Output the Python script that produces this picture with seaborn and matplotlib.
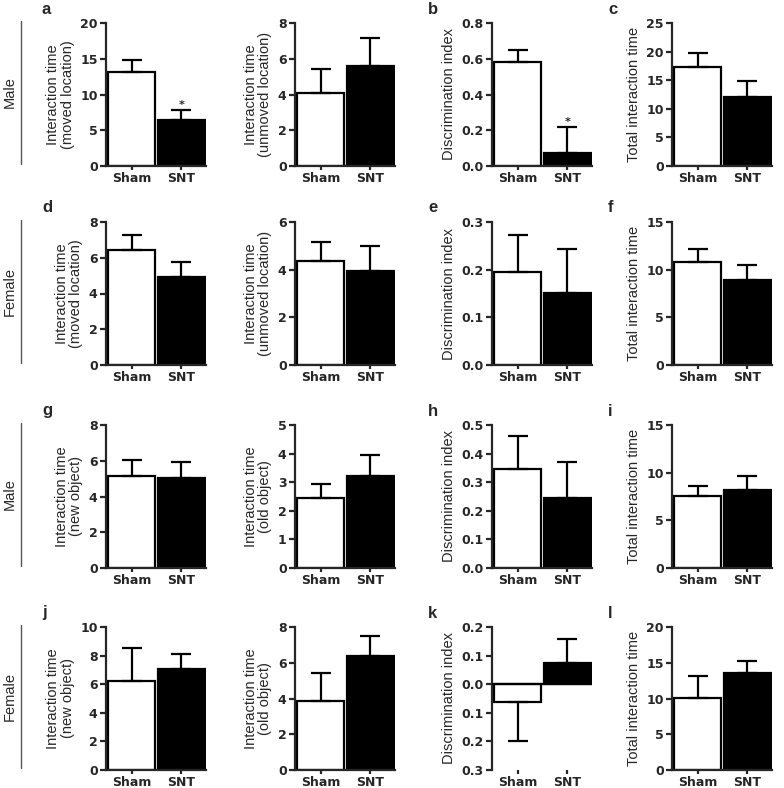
import numpy as np
import pandas as pd
import seaborn as sns
import matplotlib.pyplot as plt
from matplotlib.lines import Line2D

# group names on the x axis
groups = ["Sham", "SNT"]

# panel letters (second column has none)
letters = ["a", "", "b", "c",
           "d", "", "e", "f",
           "g", "", "h", "i",
           "j", "", "k", "l"]

# mean values
sham_mean = [13.2, 4.1, 0.58, 17.3,
             6.45, 4.35, 0.195, 10.8,
             5.15, 2.45, 0.345, 7.6,
             6.2, 3.85, -0.062, 10.1]
snt_mean = [6.4, 5.6, 0.07, 12.0,
            4.95, 3.95, 0.152, 8.9,
            5.05, 3.2, 0.245, 8.2,
            7.05, 6.4, 0.073, 13.5]

# SEM (one-sided error bars)
sham_sem = [1.6, 1.35, 0.07, 2.5,
            0.85, 0.8, 0.077, 1.4,
            0.9, 0.47, 0.117, 1.0,
            2.3, 1.55, 0.138, 3.0]
snt_sem = [1.5, 1.55, 0.15, 2.8,
           0.8, 1.05, 0.091, 1.6,
           0.9, 0.75, 0.125, 1.4,
           1.05, 1.1, 0.085, 1.7]

# significance marks above SNT
stars = ["*", "", "*", "",
         "", "", "", "",
         "", "", "", "",
         "", "", "", ""]

ylabels = ["Interaction time\n(moved location)", "Interaction time\n(unmoved location)",
           "Discrimination index", "Total interaction time",
           "Interaction time\n(moved location)", "Interaction time\n(unmoved location)",
           "Discrimination index", "Total interaction time",
           "Interaction time\n(new object)", "Interaction time\n(old object)",
           "Discrimination index", "Total interaction time",
           "Interaction time\n(new object)", "Interaction time\n(old object)",
           "Discrimination index", "Total interaction time"]

yticks = [[0, 5, 10, 15, 20], [0, 2, 4, 6, 8], [0.0, 0.2, 0.4, 0.6, 0.8], [0, 5, 10, 15, 20, 25],
          [0, 2, 4, 6, 8], [0, 2, 4, 6], [0.0, 0.1, 0.2, 0.3], [0, 5, 10, 15],
          [0, 2, 4, 6, 8], [0, 1, 2, 3, 4, 5], [0.0, 0.1, 0.2, 0.3, 0.4, 0.5], [0, 5, 10, 15],
          [0, 2, 4, 6, 8, 10], [0, 2, 4, 6, 8], [-0.3, -0.2, -0.1, 0.0, 0.1, 0.2], [0, 5, 10, 15, 20]]
# tick text as printed in the figure (k shows no minus sign)
yticklabels = [["0", "5", "10", "15", "20"], ["0", "2", "4", "6", "8"],
               ["0.0", "0.2", "0.4", "0.6", "0.8"], ["0", "5", "10", "15", "20", "25"],
               ["0", "2", "4", "6", "8"], ["0", "2", "4", "6"],
               ["0.0", "0.1", "0.2", "0.3"], ["0", "5", "10", "15"],
               ["0", "2", "4", "6", "8"], ["0", "1", "2", "3", "4", "5"],
               ["0.0", "0.1", "0.2", "0.3", "0.4", "0.5"], ["0", "5", "10", "15"],
               ["0", "2", "4", "6", "8", "10"], ["0", "2", "4", "6", "8"],
               ["0.3", "0.2", "0.1", "0.0", "0.1", "0.2"], ["0", "5", "10", "15", "20"]]

row_names = ["Male", "Female", "Male", "Female"]

sns.set_style("ticks")
plt.rcParams['font.family'] = ['DejaVu Sans']

W, H = 784, 788
fig = plt.figure(figsize=(W / 100, H / 100), dpi=100)

col_left = [106, 295, 492, 672]
row_top = [23, 222, 425, 627]
ax_w, ax_h = 100, 143

label_font = ['Liberation Sans', 'DejaVu Sans']
lw = 1.6

for i in range(16):
    r, c = divmod(i, 4)
    ax = fig.add_axes([col_left[c] / W, 1 - (row_top[r] + ax_h) / H, ax_w / W, ax_h / H])
    df = pd.DataFrame({"group": groups, "value": [sham_mean[i], snt_mean[i]]})
    sns.barplot(data=df, x="group", y="value", hue="group", palette=["white", "black"],
                edgecolor="black", linewidth=lw, width=0.94, legend=False, ax=ax)
    means = np.array([sham_mean[i], snt_mean[i]])
    sems = np.array([sham_sem[i], snt_sem[i]])
    lower = np.where(means < 0, sems, 0)
    upper = np.where(means >= 0, sems, 0)
    ax.errorbar([0, 1], means, yerr=[lower, upper], fmt="none", ecolor="black",
                elinewidth=lw, capsize=7, capthick=lw, zorder=1)
    if stars[i]:
        ax.text(1, snt_mean[i] + snt_sem[i], stars[i], ha="center", va="bottom",
                fontsize=8, fontweight="bold")

    ax.set_xlim(-0.52, 1.5)
    ax.set_ylim(yticks[i][0], yticks[i][-1])
    ax.set_yticks(yticks[i])
    ax.set_yticklabels(yticklabels[i])
    ax.set_xlabel("")
    ax.set_ylabel(ylabels[i], family=label_font, fontsize=10.5, labelpad=4, linespacing=1.05)
    ax.tick_params(axis="both", width=lw, length=4, labelsize=9, pad=2)
    ax.tick_params(axis="x", length=3, pad=1)
    for lab in ax.get_xticklabels() + ax.get_yticklabels():
        lab.set_fontweight("bold")
    sns.despine(ax=ax)
    for s in ["left", "bottom"]:
        ax.spines[s].set_linewidth(lw)
    ax.spines["left"].set_bounds(yticks[i][0], yticks[i][-1])
    ax.spines["bottom"].set_bounds(-0.52, 1.5)
    if yticks[i][0] < 0:
        ax.spines["bottom"].set_visible(False)
        ax.axhline(0, color="black", lw=lw, zorder=3)
    ax.set_facecolor("none")

    if letters[i]:
        fig.text((col_left[c] - 64) / W, 1 - (row_top[r] - 14) / H, letters[i],
                 family=label_font, fontweight="bold",
                 fontsize=12, ha="left", va="center")

for r in range(4):
    y0 = 1 - (row_top[r] - 2) / H
    y1 = 1 - (row_top[r] + ax_h - 2) / H
    fig.add_artist(Line2D([21 / W, 21 / W], [y0, y1], color="#555555", lw=1.0))
    fig.text(10 / W, (y0 + y1) / 2, row_names[r], rotation=90, family=label_font,
             fontsize=10.5, ha="center", va="center")

fig.savefig("out.png", dpi=100)
